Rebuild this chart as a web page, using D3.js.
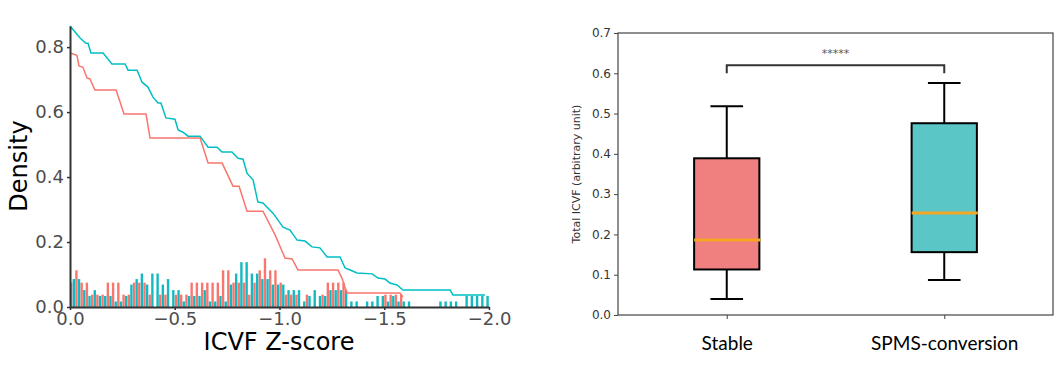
<!DOCTYPE html>
<html>
<head>
<meta charset="utf-8">
<script src="https://cdn.jsdelivr.net/npm/d3@7"></script>
<style>
  body { margin: 0; background: #fff; }
  svg { display: block; }
</style>
</head>
<body>
<svg id="chart" width="1063" height="365"></svg>
<script>
// ---- left panel: histogram + descending curves ----
const binWidth = 0.025;
// density per bin, bins go from 0.0 down to -2.0
const stableHist = [
  0.075, 0.113, 0.075, 0.075, 0.038, 0.038, 0.038, 0.075, 0.075, 0.075,
  0.038, 0.038, 0.075, 0.075, 0.075, 0.038, 0, 0.038, 0.038, 0,
  0.038, 0.038, 0.038, 0.075, 0.075, 0.075, 0.075, 0.075, 0.075, 0.113,
  0.113, 0.075, 0.075, 0.075, 0.038, 0.075, 0.113, 0.150, 0.113, 0.113,
  0.075, 0.038, 0.038, 0.038, 0, 0.038, 0, 0, 0.038, 0.075,
  0.075, 0.075, 0.075, 0, 0, 0, 0, 0, 0, 0,
  0.038, 0.038, 0.038, 0.038, 0, 0, 0, 0, 0, 0,
  0, 0, 0, 0, 0, 0, 0, 0, 0, 0
];
const spmsHist = [
  0.086, 0.086, 0.052, 0.034, 0.052, 0.034, 0.034, 0.034, 0.017, 0.017,
  0.034, 0.069, 0.086, 0.103, 0.069, 0.103, 0.103, 0.069, 0.086, 0.052,
  0.052, 0.017, 0.034, 0.034, 0.034, 0.052, 0.017, 0.017, 0.034, 0.017,
  0.069, 0.103, 0.138, 0.138, 0.103, 0.103, 0.086, 0.086, 0.069, 0.069,
  0.069, 0.052, 0.052, 0.052, 0.017, 0.034, 0.052, 0.034, 0.034, 0.052,
  0.052, 0.052, 0.052, 0.017, 0.017, 0, 0.017, 0.017, 0.034, 0.034,
  0.017, 0.034, 0.017, 0.017, 0.017, 0, 0, 0, 0, 0,
  0.017, 0.017, 0.017, 0.017, 0, 0.034, 0.034, 0.034, 0.034, 0.034
];
// curve vertices [z-score, density]
const spmsCurve = [
  [0, 0.865], [-0.048, 0.828], [-0.076, 0.812], [-0.086, 0.812], [-0.100, 0.782],
  [-0.158, 0.782], [-0.200, 0.748], [-0.263, 0.748], [-0.277, 0.729], [-0.320, 0.729],
  [-0.344, 0.692], [-0.372, 0.677], [-0.396, 0.646], [-0.420, 0.628], [-0.434, 0.628],
  [-0.458, 0.582], [-0.501, 0.578], [-0.516, 0.545], [-0.539, 0.538], [-0.563, 0.526],
  [-0.621, 0.526], [-0.659, 0.492], [-0.702, 0.492], [-0.726, 0.477], [-0.773, 0.477],
  [-0.802, 0.458], [-0.826, 0.455], [-0.845, 0.412], [-0.874, 0.391], [-0.897, 0.323],
  [-0.921, 0.320], [-0.969, 0.289], [-1.017, 0.246], [-1.050, 0.237], [-1.084, 0.206],
  [-1.122, 0.203], [-1.155, 0.185], [-1.193, 0.182], [-1.227, 0.154], [-1.289, 0.154],
  [-1.313, 0.120], [-1.337, 0.114], [-1.370, 0.105], [-1.442, 0.102], [-1.470, 0.089],
  [-1.504, 0.086], [-1.527, 0.074], [-1.561, 0.068], [-1.589, 0.052], [-1.814, 0.052],
  [-1.828, 0.037], [-1.981, 0.037]
];
const stableCurve = [
  [0, 0.782], [-0.033, 0.775], [-0.043, 0.742], [-0.062, 0.738], [-0.081, 0.705],
  [-0.095, 0.702], [-0.119, 0.668], [-0.220, 0.668], [-0.258, 0.594], [-0.363, 0.594],
  [-0.382, 0.520], [-0.621, 0.520], [-0.659, 0.443], [-0.726, 0.443], [-0.778, 0.372],
  [-0.807, 0.372], [-0.845, 0.295], [-0.921, 0.295], [-0.979, 0.222], [-1.026, 0.151],
  [-1.060, 0.148], [-1.088, 0.114], [-1.279, 0.114], [-1.298, 0.089], [-1.322, 0.043],
  [-1.575, 0.043], [-1.589, 0.031]
];
const leftXTicks = [0, -0.5, -1.0, -1.5, -2.0];
const leftYTicks = [0, 0.2, 0.4, 0.6, 0.8];

// ---- right panel: box plots ----
const groups = ["Stable", "SPMS-conversion"];
const boxStats = [
  {low: 0.040, q1: 0.113, median: 0.186, q3: 0.389, high: 0.518},
  {low: 0.087, q1: 0.156, median: 0.253, q3: 0.476, high: 0.576}
];
const rightYTicks = [0, 0.1, 0.2, 0.3, 0.4, 0.5, 0.6, 0.7];
const sigLabel = "*****";
const sigLevel = 0.62;

const red = "#F8766D", teal = "#00BFC4";
const svg = d3.select("#chart");
svg.append("rect").attr("width", 1063).attr("height", 365).attr("fill", "#fff");

// ===== left panel =====
const x = d3.scaleLinear().domain([0, -2.0]).range([70, 489]);
const y = d3.scaleLinear().domain([0, 0.865]).range([307, 26]);
const left = svg.append("g");

// histogram bars, dodged inside each bin
const barW = (x(-binWidth) - x(0)) / 2;
left.append("g").selectAll("rect")
  .data(stableHist)
  .join("rect")
  .attr("x", (d, i) => x(-i * binWidth))
  .attr("y", d => y(d))
  .attr("width", barW - 0.25)
  .attr("height", d => y(0) - y(d))
  .attr("fill", red);
left.append("g").selectAll("rect")
  .data(spmsHist)
  .join("rect")
  .attr("x", (d, i) => x(-i * binWidth) + barW)
  .attr("y", d => y(d))
  .attr("width", barW - 0.25)
  .attr("height", d => y(0) - y(d))
  .attr("fill", "#12B9C0");

const line = d3.line().x(d => x(d[0])).y(d => y(d[1]));
left.append("path").datum(stableCurve)
  .attr("d", line).attr("fill", "none")
  .attr("stroke", red).attr("stroke-width", 1.5);
left.append("path").datum(spmsCurve)
  .attr("d", line).attr("fill", "none")
  .attr("stroke", teal).attr("stroke-width", 1.5);

// axes
const lx = left.append("g")
  .attr("transform", `translate(0,${y(0)})`)
  .call(d3.axisBottom(x).tickValues(leftXTicks).tickFormat(d3.format(".1f"))
    .tickSize(3).tickSizeOuter(0));
const ly = left.append("g")
  .attr("transform", `translate(${x(0)},0)`)
  .call(d3.axisLeft(y).tickValues(leftYTicks).tickFormat(d3.format(".1f"))
    .tickSize(3).tickSizeOuter(0));
[lx, ly].forEach(a => {
  a.select(".domain").attr("stroke", "#333").attr("stroke-width", 2);
  a.selectAll(".tick line").attr("stroke", "#333").attr("stroke-width", 1.5);
  a.selectAll(".tick text")
    .attr("font-family", "DejaVu Sans").attr("font-size", 18).attr("fill", "#4D4D4D");
});
lx.selectAll(".tick text").attr("y", 5);
ly.selectAll(".tick text").attr("x", -6);

left.append("text")
  .attr("x", 279).attr("y", 350)
  .attr("text-anchor", "middle")
  .attr("font-family", "DejaVu Sans").attr("font-size", 24)
  .text("ICVF Z-score");
left.append("text")
  .attr("transform", "translate(27,166) rotate(-90)")
  .attr("text-anchor", "middle")
  .attr("font-family", "DejaVu Sans").attr("font-size", 24)
  .text("Density");

// ===== right panel =====
const bx = d3.scaleLinear().domain([0.5, 2.5]).range([618, 1053]);
const by = d3.scaleLinear().domain([0, 0.7]).range([315, 33]);
const right = svg.append("g");
const halfBox = bx(0.65) - bx(0.5);
const halfCap = bx(0.575) - bx(0.5);
const boxFill = ["#F07F7F", "#5BC6C6"];

boxStats.forEach((s, i) => {
  const cx = bx(i + 1);
  const g = right.append("g");
  g.append("line").attr("x1", cx).attr("x2", cx)
    .attr("y1", by(s.q3)).attr("y2", by(s.high))
    .attr("stroke", "#000").attr("stroke-width", 2);
  g.append("line").attr("x1", cx).attr("x2", cx)
    .attr("y1", by(s.q1)).attr("y2", by(s.low))
    .attr("stroke", "#000").attr("stroke-width", 2);
  [s.high, s.low].forEach(v => {
    g.append("line").attr("x1", cx - halfCap).attr("x2", cx + halfCap)
      .attr("y1", by(v)).attr("y2", by(v))
      .attr("stroke", "#000").attr("stroke-width", 2);
  });
  g.append("rect")
    .attr("x", cx - halfBox).attr("width", 2 * halfBox)
    .attr("y", by(s.q3)).attr("height", by(s.q1) - by(s.q3))
    .attr("fill", boxFill[i]).attr("stroke", "#000").attr("stroke-width", 2);
  g.append("line").attr("x1", cx - halfBox).attr("x2", cx + halfBox + 1)
    .attr("y1", by(s.median)).attr("y2", by(s.median))
    .attr("stroke", "#F5A623").attr("stroke-width", 3);
});

// significance bracket
right.append("path")
  .attr("d", `M${bx(1)},${by(sigLevel) + 8}V${by(sigLevel)}H${bx(2)}V${by(sigLevel) + 8}`)
  .attr("fill", "none").attr("stroke", "#333").attr("stroke-width", 2);
right.append("text")
  .attr("x", (bx(1) + bx(2)) / 2).attr("y", by(sigLevel) - 8)
  .attr("text-anchor", "middle")
  .attr("font-family", "DejaVu Sans").attr("font-size", 11).attr("fill", "#555")
  .text(sigLabel);

// frame and axes
right.append("rect")
  .attr("x", bx(0.5)).attr("y", by(0.7))
  .attr("width", bx(2.5) - bx(0.5)).attr("height", by(0) - by(0.7))
  .attr("fill", "none").attr("stroke", "#444").attr("stroke-width", 1.2);
const ry = right.append("g")
  .attr("transform", `translate(${bx(0.5)},0)`)
  .call(d3.axisLeft(by).tickValues(rightYTicks).tickFormat(d3.format(".1f"))
    .tickSize(4).tickSizeOuter(0));
ry.select(".domain").remove();
ry.selectAll(".tick line").attr("stroke", "#444");
ry.selectAll(".tick text")
  .attr("font-family", "DejaVu Sans").attr("font-size", 12).attr("fill", "#333").attr("x", -7);

const rx = right.append("g")
  .attr("transform", `translate(0,${by(0)})`)
  .call(d3.axisBottom(bx).tickValues([1, 2]).tickFormat((d, i) => groups[i])
    .tickSize(4).tickSizeOuter(0));
rx.select(".domain").remove();
rx.selectAll(".tick line").attr("stroke", "#444");
rx.selectAll(".tick text")
  .attr("font-family", "Lato").attr("font-size", 19).attr("fill", "#000")
  .attr("y", 22);

right.append("text")
  .attr("transform", `translate(580,${(by(0) + by(0.7)) / 2}) rotate(-90)`)
  .attr("text-anchor", "middle")
  .attr("font-family", "DejaVu Sans").attr("font-size", 11).attr("fill", "#333")
  .text("Total ICVF (arbitrary unit)");
</script>
</body>
</html>
